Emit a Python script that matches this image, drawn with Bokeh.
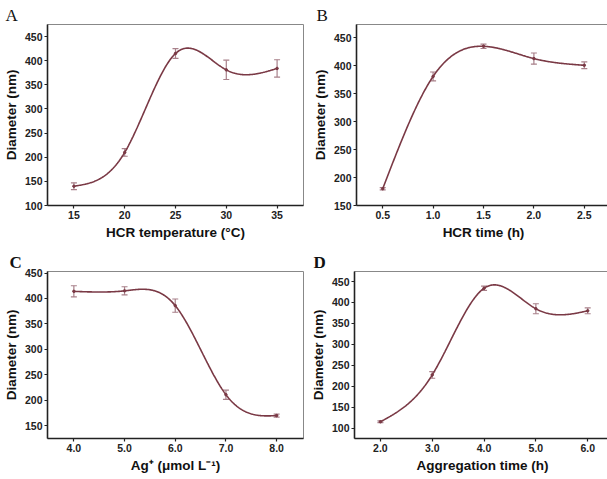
import numpy as np
from bokeh.plotting import figure
from bokeh.models import ColumnDataSource, Whisker, TeeHead, FixedTicker, NumeralTickFormatter, Range1d
from bokeh.layouts import column, row
from bokeh.embed import file_html
from bokeh.resources import INLINE

# ---- data ----
a_x = [15, 20, 25, 30, 35]
a_y = [140, 210, 415, 381, 384]
a_err = [7, 8, 10, 20, 18]

b_x = [0.5, 1.0, 1.5, 2.0, 2.5]
b_y = [180, 381, 435, 413, 401]
b_err = [2, 8, 4, 10, 6]

c_x = [4.0, 5.0, 6.0, 7.0, 8.0]
c_y = [414, 415, 386, 211, 170]
c_err = [11, 8, 13, 9, 3]

d_x = [2.0, 3.0, 4.0, 5.0, 6.0]
d_y = [115, 227, 434, 385, 380]
d_err = [2, 8, 5, 12, 7]

LINE = "#7a3945"
ERR = "#a8808a"
FONT = "Liberation Sans"


def spline(x, y, n=300):
    x = np.asarray(x, float)
    y = np.asarray(y, float)
    k = len(x)
    h = np.diff(x)
    A = np.zeros((k, k))
    r = np.zeros(k)
    A[0, 0] = A[-1, -1] = 1
    for i in range(1, k - 1):
        A[i, i - 1] = h[i - 1]
        A[i, i] = 2 * (h[i - 1] + h[i])
        A[i, i + 1] = h[i]
        r[i] = 3 * ((y[i + 1] - y[i]) / h[i] - (y[i] - y[i - 1]) / h[i - 1])
    c = np.linalg.solve(A, r)
    b = (y[1:] - y[:-1]) / h - h * (2 * c[:-1] + c[1:]) / 3
    d = (c[1:] - c[:-1]) / (3 * h)
    xs = np.linspace(x[0], x[-1], n)
    idx = np.clip(np.searchsorted(x, xs, side="right") - 1, 0, k - 2)
    dx = xs - x[idx]
    ys = y[idx] + b[idx] * dx + c[idx] * dx ** 2 + d[idx] * dx ** 3
    return xs, ys


def panel(letter, bold, xs, ys, errs, xr, yr, xticks, yticks, xfmt, xlabel,
          width, height, bl, bt, bb, title_off):
    p = figure(width=width, height=height, output_backend="svg", toolbar_location=None,
               x_range=Range1d(*xr), y_range=Range1d(*yr),
               min_border_left=bl, min_border_right=2, min_border_top=bt, min_border_bottom=bb)
    p.title.text = letter
    p.title.text_font = "Liberation Serif"
    p.title.text_font_size = "17px"
    p.title.text_font_style = "bold" if bold else "normal"
    p.title.text_color = "#111111"
    p.title.align = "left"
    p.title.offset = title_off
    p.title.standoff = 0
    p.grid.visible = False
    p.outline_line_color = "#888888"
    p.outline_line_width = 1
    p.background_fill_color = "white"
    p.border_fill_color = "white"

    sx, sy = spline(xs, ys)
    p.line(sx, sy, line_color=LINE, line_width=1.6)
    src = ColumnDataSource(dict(x=xs, lo=[v - e for v, e in zip(ys, errs)],
                                hi=[v + e for v, e in zip(ys, errs)]))
    w = Whisker(source=src, base="x", upper="hi", lower="lo",
                line_color=ERR, line_width=1.2,
                upper_head=TeeHead(size=6, line_color=ERR, line_width=1.2),
                lower_head=TeeHead(size=6, line_color=ERR, line_width=1.2))
    p.add_layout(w)
    p.scatter(xs, ys, size=2.5, color=LINE)

    for ax in (p.xaxis, p.yaxis):
        ax.axis_line_color = "#222222"
        ax.axis_line_width = 1.6
        ax.major_tick_line_color = "#222222"
        ax.major_tick_line_width = 1.2
        ax.major_tick_out = 3
        ax.major_tick_in = 0
        ax.minor_tick_out = 0
        ax.minor_tick_in = 0
        ax.major_label_text_font = FONT
        ax.major_label_text_font_style = "bold"
        ax.major_label_text_font_size = "10.5px"
        ax.major_label_text_color = "#222222"
        ax.axis_label_text_font = FONT
        ax.axis_label_text_font_style = "bold"
        ax.axis_label_text_font_size = "13.5px"
        ax.axis_label_text_color = "#111111"
        ax.major_label_standoff = 2
        ax.axis_label_standoff = 3
    p.xaxis.ticker = FixedTicker(ticks=xticks)
    p.yaxis.ticker = FixedTicker(ticks=yticks)
    if xfmt:
        p.xaxis.formatter = NumeralTickFormatter(format=xfmt)
    p.xaxis.axis_label = xlabel
    p.yaxis.axis_label = "Diameter (nm)"
    return p


pa = panel("A", False, a_x, a_y, a_err, (12.4, 37.6), (100, 475), a_x,
           [100, 150, 200, 250, 300, 350, 400, 450], None, "HCR temperature (°C)",
           305, 242, 44, 24, 37, -42)
pb = panel("B", False, b_x, b_y, b_err, (0.24, 2.76), (150, 474), b_x,
           [150, 200, 250, 300, 350, 400, 450], "0.0", "HCR time (h)",
           307, 242, 51, 24, 37, -40)
pc = panel("C", True, c_x, c_y, c_err, (3.48, 8.53), (125, 453), c_x,
           [150, 200, 250, 300, 350, 400, 450], "0.0", "Ag⁺ (μmol L⁻¹)",
           305, 233, 40, 26, 36, -38)
pd = panel("D", True, d_x, d_y, d_err, (1.5, 6.44), (75, 474), d_x,
           [100, 150, 200, 250, 300, 350, 400, 450], "0.0", "Aggregation time (h)",
           307, 233, 49, 29, 36, -41)

layout = column(row(pa, pb), row(pc, pd))
open("out.html", "w").write(file_html(layout, INLINE))
